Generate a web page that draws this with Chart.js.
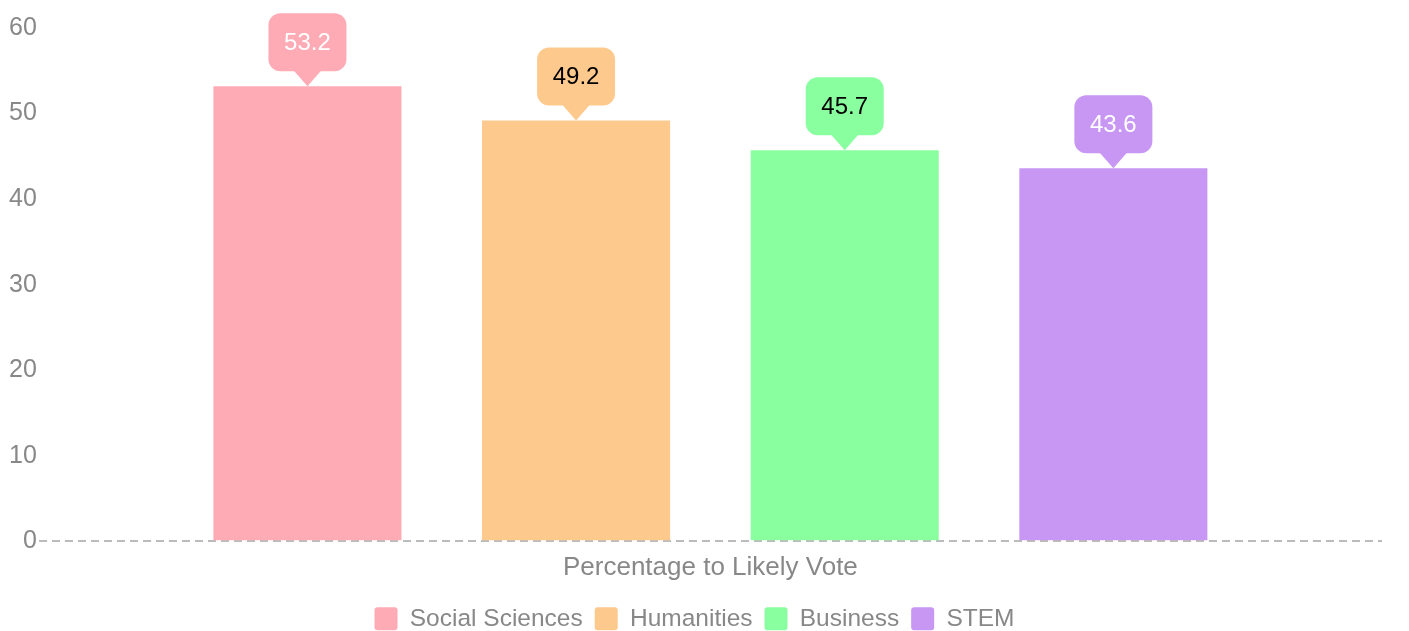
<!DOCTYPE html>
<html>
<head>
<meta charset="utf-8">
<script src="https://cdn.jsdelivr.net/npm/chart.js@4/dist/chart.umd.min.js"></script>
<style>
    html, body { margin: 0; padding: 0; background: #fff; }
    #wrap { width: 1409px; height: 631px; }
</style>
</head>
<body>
<div id="wrap"><canvas id="chart" width="1409" height="631"></canvas></div>
<script>
// Chart data
const categories = ['Percentage to Likely Vote'];
const seriesNames = ['Social Sciences', 'Humanities', 'Business', 'STEM'];
const seriesValues = [53.2, 49.2, 45.7, 43.6];
const seriesColors = ['#ffabb5', '#fec98d', '#8affa0', '#c896f3'];
const labelColors = ['#ffffff', '#000000', '#000000', '#ffffff'];
const yTicks = [0, 10, 20, 30, 40, 50, 60];

const fontFamily = '"Liberation Sans", Arial, Helvetica, sans-serif';

// Callout boxes above each bar
const calloutPlugin = {
    id: 'callouts',
    afterDatasetsDraw(chart) {
        const ctx = chart.ctx;
        chart.data.datasets.forEach(function(ds, i) {
            const meta = chart.getDatasetMeta(i);
            if (meta.hidden) return;
            const bar = meta.data[0];
            const w = 78, h = 58, r = 12, tipH = 15, tipW = 28;
            const x = bar.x;
            const tipY = bar.y;
            const bottom = tipY - tipH;
            const top = bottom - h;
            const left = x - w / 2;

            ctx.save();
            ctx.fillStyle = ds.backgroundColor;
            ctx.beginPath();
            ctx.roundRect(left, top, w, h, r);
            ctx.fill();
            ctx.beginPath();
            ctx.moveTo(x - tipW / 2, bottom - 1);
            ctx.lineTo(x + tipW / 2, bottom - 1);
            ctx.lineTo(x, tipY);
            ctx.closePath();
            ctx.fill();

            ctx.fillStyle = labelColors[i];
            ctx.font = '24px ' + fontFamily;
            ctx.textAlign = 'center';
            ctx.textBaseline = 'middle';
            ctx.fillText(ds.data[0].toFixed(1), x, top + h / 2 + 1);
            ctx.restore();
        });
    }
};

const datasets = seriesNames.map(function(name, i) {
    return {
        label: name,
        data: [seriesValues[i]],
        backgroundColor: seriesColors[i],
        borderWidth: 0
    };
});

new Chart(document.getElementById('chart'), {
    type: 'bar',
    data: {
        labels: categories,
        datasets: datasets
    },
    options: {
        responsive: false,
        animation: false,
        devicePixelRatio: 1,
        layout: {
            padding: { top: 28, right: 27, left: 7, bottom: -10 }
        },
        categoryPercentage: 0.8,
        barPercentage: 0.7,
        plugins: {
            tooltip: { enabled: false },
            legend: {
                position: 'bottom',
                labels: {
                    boxWidth: 23,
                    boxHeight: 23,
                    useBorderRadius: true,
                    borderRadius: 3,
                    padding: 12,
                    color: '#888888',
                    font: { family: fontFamily, size: 24.5 }
                }
            }
        },
        scales: {
            x: {
                grid: { display: false },
                border: { display: false },
                // extra room between the category label and the legend
                afterFit: function(scale) { scale.height += 8; },
                ticks: {
                    color: '#888888',
                    padding: 3,
                    font: { family: fontFamily, size: 26 }
                }
            },
            y: {
                min: 0,
                max: 60,
                afterBuildTicks: function(scale) {
                    scale.ticks = yTicks.map(function(v) { return { value: v }; });
                },
                // only the zero line is shown, dashed
                grid: {
                    drawTicks: false,
                    lineWidth: 2,
                    color: function(c) { return c.tick && c.tick.value === 0 ? '#bbbbbb' : 'rgba(0,0,0,0)'; }
                },
                border: { display: false, dash: [8, 5] },
                ticks: {
                    color: '#888888',
                    padding: 2,
                    font: { family: fontFamily, size: 25 }
                }
            }
        }
    },
    plugins: [calloutPlugin]
});
</script>
</body>
</html>
